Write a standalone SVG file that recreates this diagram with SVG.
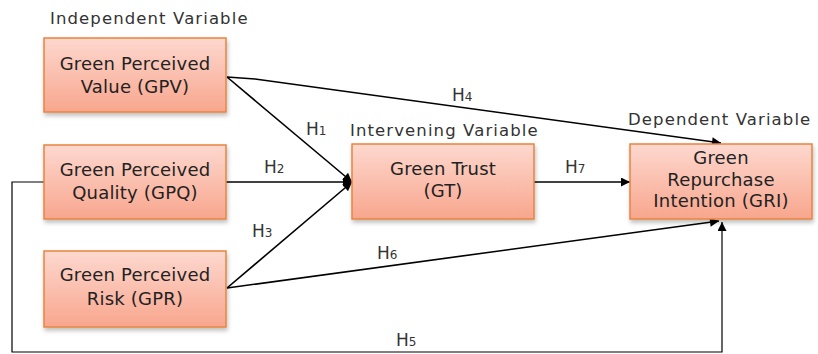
<svg xmlns="http://www.w3.org/2000/svg" width="818" height="354" viewBox="0 0 818 354">
<defs>
<linearGradient id="g" x1="0" y1="0" x2="0" y2="1">
<stop offset="0" stop-color="#fdd8cf"/>
<stop offset="1" stop-color="#f8a68d"/>
</linearGradient>
<filter id="sh" x="-10%" y="-10%" width="130%" height="140%">
<feDropShadow dx="1" dy="3" stdDeviation="2" flood-color="#000" flood-opacity="0.25"/>
</filter>
<marker id="ar" viewBox="0 0 10 10" refX="10" refY="5" markerWidth="11" markerHeight="9" markerUnits="userSpaceOnUse" orient="auto">
<path d="M0,0 L10,5 L0,10 z" fill="#000"/>
</marker>
</defs>
<style>
.box{fill:url(#g);stroke:#e8843f;stroke-width:1.5;filter:url(#sh)}
.t{font-family:"DejaVu Sans",Verdana,sans-serif;font-size:18px;fill:#222;text-anchor:middle;letter-spacing:0.2px}
.h{font-family:"DejaVu Sans",Verdana,sans-serif;font-size:16.5px;fill:#333;letter-spacing:1.1px}
.l{font-family:"DejaVu Sans",Verdana,sans-serif;font-size:17px;fill:#333}
.s{font-size:12px}
.c{fill:none;stroke:#000;stroke-width:1.6}
.c2{fill:none;stroke:#000;stroke-width:1.2}
</style>
<g id="connectors">
<path class="c" d="M227,77 L255,79 L721,143" marker-end="url(#ar)"/>
<path class="c" d="M227,77 L352,182" marker-end="url(#ar)"/>
<path class="c" d="M226,182 L352,182" marker-end="url(#ar)"/>
<path class="c" d="M227,288 L352,182" marker-end="url(#ar)"/>
<path class="c" d="M534,182 L630,182" marker-end="url(#ar)"/>
<path class="c" d="M227,288 L719,221" marker-end="url(#ar)"/>
<path class="c2" d="M44,182 L12,182 L12,352 L722,352 L722,222" marker-end="url(#ar)"/>
</g>
<g id="labels">
<text class="h" x="50" y="24">Independent Variable</text>
<text class="h" x="350" y="136">Intervening Variable</text>
<text class="h" x="628" y="125">Dependent Variable</text>
<text class="l" x="452" y="101">H<tspan class="s">4</tspan></text>
<text class="l" x="306" y="135">H<tspan class="s">1</tspan></text>
<text class="l" x="264" y="173">H<tspan class="s">2</tspan></text>
<text class="l" x="565" y="173">H<tspan class="s">7</tspan></text>
<text class="l" x="252" y="237">H<tspan class="s">3</tspan></text>
<text class="l" x="377" y="259">H<tspan class="s">6</tspan></text>
<text class="l" x="396" y="346">H<tspan class="s">5</tspan></text>
</g>
<g id="GPV">
<rect class="box" x="44" y="38" width="182" height="74"/>
<text class="t" x="135" y="70">Green Perceived</text>
<text class="t" x="135" y="93">Value (GPV)</text>
</g>
<g id="GPQ">
<rect class="box" x="44" y="145" width="182" height="74"/>
<text class="t" x="135" y="176">Green Perceived</text>
<text class="t" x="135" y="199">Quality (GPQ)</text>
</g>
<g id="GPR">
<rect class="box" x="44" y="251" width="182" height="76"/>
<text class="t" x="135" y="281">Green Perceived</text>
<text class="t" x="135" y="305">Risk (GPR)</text>
</g>
<g id="GT">
<rect class="box" x="352" y="144" width="182" height="75"/>
<text class="t" x="443" y="175">Green Trust</text>
<text class="t" x="443" y="197">(GT)</text>
</g>
<g id="GRI">
<rect class="box" x="630" y="144" width="182" height="75"/>
<text class="t" x="721" y="164">Green</text>
<text class="t" x="721" y="186">Repurchase</text>
<text class="t" x="721" y="207">Intention (GRI)</text>
</g>
</svg>
